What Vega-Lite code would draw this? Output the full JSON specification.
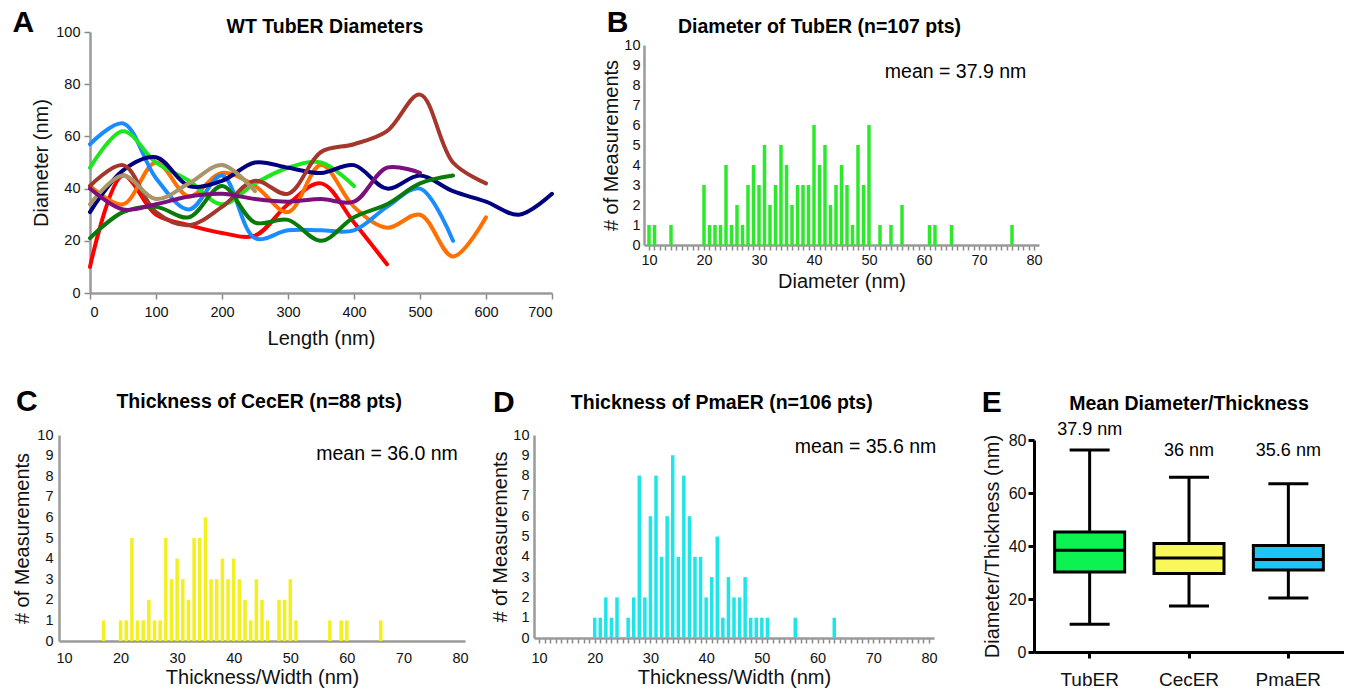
{
  "$schema": "https://vega.github.io/schema/vega-lite/v6.json",
  "padding": {"left": 10, "top": 7, "right": 0, "bottom": 0},
  "config": {
    "font": "Liberation Sans",
    "view": {"stroke": null},
    "axis": {"grid": false, "labelOverlap": false, "domainColor": "#9a9a9a", "domainWidth": 2.5, "tickColor": "#8a8a8a", "tickWidth": 1.5, "labelColor": "#111", "labelFontSize": 14.5, "titleFontSize": 20, "titleFontWeight": "normal", "titleColor": "#111", "labelFont": "Liberation Sans", "titleFont": "Liberation Sans"},
    "text": {"font": "Liberation Sans", "color": "#111"}
  },
  "resolve": {"scale": {"color": "independent"}},
  "datasets": {
    "tubules": [
      {"series": "red", "length": 0, "diameter": 10}, {"series": "red", "length": 50, "diameter": 45}, {"series": "red", "length": 100, "diameter": 30}, {"series": "red", "length": 150, "diameter": 26}, {"series": "red", "length": 200, "diameter": 23}, {"series": "red", "length": 250, "diameter": 22}, {"series": "red", "length": 300, "diameter": 34}, {"series": "red", "length": 350, "diameter": 42}, {"series": "red", "length": 400, "diameter": 27}, {"series": "red", "length": 450, "diameter": 11},
      {"series": "orange", "length": 0, "diameter": 41}, {"series": "orange", "length": 50, "diameter": 34}, {"series": "orange", "length": 100, "diameter": 50}, {"series": "orange", "length": 150, "diameter": 37}, {"series": "orange", "length": 200, "diameter": 46}, {"series": "orange", "length": 250, "diameter": 41}, {"series": "orange", "length": 300, "diameter": 31}, {"series": "orange", "length": 350, "diameter": 49}, {"series": "orange", "length": 400, "diameter": 33}, {"series": "orange", "length": 450, "diameter": 25}, {"series": "orange", "length": 500, "diameter": 30}, {"series": "orange", "length": 550, "diameter": 14}, {"series": "orange", "length": 600, "diameter": 29},
      {"series": "blue", "length": 0, "diameter": 57}, {"series": "blue", "length": 50, "diameter": 65}, {"series": "blue", "length": 100, "diameter": 44}, {"series": "blue", "length": 150, "diameter": 32}, {"series": "blue", "length": 200, "diameter": 45}, {"series": "blue", "length": 250, "diameter": 21}, {"series": "blue", "length": 300, "diameter": 24}, {"series": "blue", "length": 350, "diameter": 24}, {"series": "blue", "length": 400, "diameter": 24}, {"series": "blue", "length": 450, "diameter": 33}, {"series": "blue", "length": 500, "diameter": 40}, {"series": "blue", "length": 550, "diameter": 20},
      {"series": "green", "length": 0, "diameter": 48}, {"series": "green", "length": 50, "diameter": 62}, {"series": "green", "length": 100, "diameter": 50}, {"series": "green", "length": 150, "diameter": 43}, {"series": "green", "length": 200, "diameter": 34}, {"series": "green", "length": 250, "diameter": 42}, {"series": "green", "length": 300, "diameter": 48}, {"series": "green", "length": 350, "diameter": 50}, {"series": "green", "length": 400, "diameter": 41},
      {"series": "navy", "length": 0, "diameter": 31}, {"series": "navy", "length": 50, "diameter": 47}, {"series": "navy", "length": 100, "diameter": 52}, {"series": "navy", "length": 150, "diameter": 41}, {"series": "navy", "length": 200, "diameter": 43}, {"series": "navy", "length": 250, "diameter": 50}, {"series": "navy", "length": 300, "diameter": 48}, {"series": "navy", "length": 350, "diameter": 46}, {"series": "navy", "length": 400, "diameter": 49}, {"series": "navy", "length": 450, "diameter": 40}, {"series": "navy", "length": 500, "diameter": 45}, {"series": "navy", "length": 550, "diameter": 39}, {"series": "navy", "length": 600, "diameter": 35}, {"series": "navy", "length": 650, "diameter": 30}, {"series": "navy", "length": 700, "diameter": 38},
      {"series": "brown", "length": 0, "diameter": 41}, {"series": "brown", "length": 50, "diameter": 49}, {"series": "brown", "length": 100, "diameter": 31}, {"series": "brown", "length": 150, "diameter": 26}, {"series": "brown", "length": 200, "diameter": 33}, {"series": "brown", "length": 250, "diameter": 43}, {"series": "brown", "length": 300, "diameter": 38}, {"series": "brown", "length": 350, "diameter": 54}, {"series": "brown", "length": 400, "diameter": 57}, {"series": "brown", "length": 450, "diameter": 62}, {"series": "brown", "length": 500, "diameter": 76}, {"series": "brown", "length": 550, "diameter": 50}, {"series": "brown", "length": 600, "diameter": 42},
      {"series": "tan", "length": 0, "diameter": 34}, {"series": "tan", "length": 50, "diameter": 45}, {"series": "tan", "length": 100, "diameter": 36}, {"series": "tan", "length": 150, "diameter": 42}, {"series": "tan", "length": 200, "diameter": 49}, {"series": "tan", "length": 250, "diameter": 39},
      {"series": "dkgreen", "length": 0, "diameter": 21}, {"series": "dkgreen", "length": 50, "diameter": 31}, {"series": "dkgreen", "length": 100, "diameter": 33}, {"series": "dkgreen", "length": 150, "diameter": 29}, {"series": "dkgreen", "length": 200, "diameter": 41}, {"series": "dkgreen", "length": 250, "diameter": 27}, {"series": "dkgreen", "length": 300, "diameter": 28}, {"series": "dkgreen", "length": 350, "diameter": 20}, {"series": "dkgreen", "length": 400, "diameter": 29}, {"series": "dkgreen", "length": 450, "diameter": 34}, {"series": "dkgreen", "length": 500, "diameter": 42}, {"series": "dkgreen", "length": 550, "diameter": 45},
      {"series": "purple", "length": 0, "diameter": 40}, {"series": "purple", "length": 50, "diameter": 32}, {"series": "purple", "length": 100, "diameter": 34}, {"series": "purple", "length": 150, "diameter": 37}, {"series": "purple", "length": 200, "diameter": 38}, {"series": "purple", "length": 250, "diameter": 36}, {"series": "purple", "length": 300, "diameter": 35}, {"series": "purple", "length": 350, "diameter": 36}, {"series": "purple", "length": 400, "diameter": 35}, {"series": "purple", "length": 450, "diameter": 48}, {"series": "purple", "length": 500, "diameter": 46}
    ],
    "tuber": [
      {"diameter": 10, "count": 1}, {"diameter": 11, "count": 1}, {"diameter": 14, "count": 1}, {"diameter": 20, "count": 3}, {"diameter": 21, "count": 1}, {"diameter": 22, "count": 1}, {"diameter": 23, "count": 1}, {"diameter": 24, "count": 4}, {"diameter": 25, "count": 1}, {"diameter": 26, "count": 2}, {"diameter": 27, "count": 1}, {"diameter": 28, "count": 3}, {"diameter": 29, "count": 4}, {"diameter": 30, "count": 3}, {"diameter": 31, "count": 5}, {"diameter": 32, "count": 2}, {"diameter": 33, "count": 3}, {"diameter": 34, "count": 5}, {"diameter": 35, "count": 4}, {"diameter": 36, "count": 2}, {"diameter": 37, "count": 3}, {"diameter": 38, "count": 3}, {"diameter": 39, "count": 3}, {"diameter": 40, "count": 6}, {"diameter": 41, "count": 4}, {"diameter": 42, "count": 5}, {"diameter": 43, "count": 2}, {"diameter": 44, "count": 3}, {"diameter": 45, "count": 4}, {"diameter": 46, "count": 3}, {"diameter": 47, "count": 1}, {"diameter": 48, "count": 5}, {"diameter": 49, "count": 3}, {"diameter": 50, "count": 6}, {"diameter": 52, "count": 1}, {"diameter": 54, "count": 1}, {"diameter": 56, "count": 2}, {"diameter": 61, "count": 1}, {"diameter": 62, "count": 1}, {"diameter": 65, "count": 1}, {"diameter": 76, "count": 1}
    ],
    "cecer": [
      {"thickness": 17, "count": 1}, {"thickness": 20, "count": 1}, {"thickness": 21, "count": 1}, {"thickness": 22, "count": 5}, {"thickness": 23, "count": 1}, {"thickness": 24, "count": 1}, {"thickness": 25, "count": 2}, {"thickness": 26, "count": 1}, {"thickness": 27, "count": 1}, {"thickness": 28, "count": 5}, {"thickness": 29, "count": 3}, {"thickness": 30, "count": 4}, {"thickness": 31, "count": 3}, {"thickness": 32, "count": 2}, {"thickness": 33, "count": 5}, {"thickness": 34, "count": 5}, {"thickness": 35, "count": 6}, {"thickness": 36, "count": 3}, {"thickness": 37, "count": 3}, {"thickness": 38, "count": 4}, {"thickness": 39, "count": 3}, {"thickness": 40, "count": 4}, {"thickness": 41, "count": 3}, {"thickness": 42, "count": 2}, {"thickness": 43, "count": 1}, {"thickness": 44, "count": 3}, {"thickness": 45, "count": 2}, {"thickness": 46, "count": 1}, {"thickness": 48, "count": 2}, {"thickness": 49, "count": 2}, {"thickness": 50, "count": 3}, {"thickness": 51, "count": 1}, {"thickness": 57, "count": 1}, {"thickness": 59, "count": 1}, {"thickness": 60, "count": 1}, {"thickness": 66, "count": 1}
    ],
    "pmaer": [
      {"thickness": 20, "count": 1}, {"thickness": 21, "count": 1}, {"thickness": 22, "count": 2}, {"thickness": 23, "count": 1}, {"thickness": 24, "count": 2}, {"thickness": 26, "count": 1}, {"thickness": 27, "count": 2}, {"thickness": 28, "count": 8}, {"thickness": 29, "count": 2}, {"thickness": 30, "count": 6}, {"thickness": 31, "count": 8}, {"thickness": 32, "count": 4}, {"thickness": 33, "count": 6}, {"thickness": 34, "count": 9}, {"thickness": 35, "count": 4}, {"thickness": 36, "count": 8}, {"thickness": 37, "count": 6}, {"thickness": 38, "count": 4}, {"thickness": 39, "count": 4}, {"thickness": 40, "count": 2}, {"thickness": 41, "count": 3}, {"thickness": 42, "count": 5}, {"thickness": 43, "count": 1}, {"thickness": 44, "count": 3}, {"thickness": 45, "count": 2}, {"thickness": 46, "count": 2}, {"thickness": 47, "count": 3}, {"thickness": 48, "count": 1}, {"thickness": 49, "count": 1}, {"thickness": 50, "count": 1}, {"thickness": 51, "count": 1}, {"thickness": 56, "count": 1}, {"thickness": 63, "count": 1}
    ],
    "summary": [
      {"group": "TubER", "min": 10.5, "q1": 30.2, "median": 38.4, "q3": 45.3, "max": 76.2, "mean": "37.9 nm"},
      {"group": "CecER", "min": 17.4, "q1": 29.6, "median": 35.5, "q3": 40.9, "max": 65.9, "mean": "36 nm"},
      {"group": "PmaER", "min": 20.4, "q1": 30.9, "median": 34.9, "q3": 40.2, "max": 63.5, "mean": "35.6 nm"}
    ]
  },
  "spacing": 37,
  "vconcat": [
    {
      "spacing": 1,
      "hconcat": [
        {"width": 1, "height": 1, "data": {"values": []}, "mark": "point"},
        {
          "spacing": 0,
          "vconcat": [
            {"width": 1, "height": 1, "data": {"values": []}, "mark": "point"},
            {
              "width": 462, "height": 261,
              "layer": [
                {
                  "data": {"name": "tubules"},
                  "mark": {"type": "line", "interpolate": "catmull-rom", "strokeWidth": 4, "strokeCap": "round"},
                  "encoding": {
                    "x": {"field": "length", "type": "quantitative", "scale": {"domain": [0, 700], "nice": false}, "axis": {"title": "Length (nm)", "values": [0, 100, 200, 300, 400, 500, 600, 700], "format": "d", "tickCount": 100, "tickSize": 6, "labelPadding": 6, "titlePadding": 10}},
                    "y": {"field": "diameter", "type": "quantitative", "scale": {"domain": [0, 100], "nice": false}, "axis": {"title": "Diameter (nm)", "values": [0, 20, 40, 60, 80, 100], "format": "d", "tickCount": 100, "tickSize": 6, "labelPadding": 4, "titlePadding": 4}},
                    "color": {"field": "series", "type": "nominal", "legend": null, "scale": {"domain": ["tan", "purple", "dkgreen", "orange", "red", "green", "blue", "brown", "navy"], "range": ["#a8966a", "#7b0f7b", "#0a7a0a", "#ff7000", "#ff0000", "#1ee61e", "#1a8cff", "#a5362c", "#00007f"]}}
                  }
                },
                {
                  "data": {"values": [{"label": "A"}]},
                  "mark": {"type": "text", "fontSize": 30, "fontWeight": "bold", "align": "center", "baseline": "middle", "color": "#000"},
                  "encoding": {"text": {"field": "label"}, "x": {"datum": -101}, "y": {"datum": 103.4}}
                },
                {
                  "data": {"values": [{"label": "WT TubER Diameters"}]},
                  "mark": {"type": "text", "fontSize": 19.5, "fontWeight": "bold", "align": "center", "baseline": "middle", "color": "#000"},
                  "encoding": {"text": {"field": "label"}, "x": {"datum": 356}, "y": {"datum": 101.9}}
                }
              ]
            }
          ]
        },
        {"width": 39, "height": 1, "data": {"values": []}, "mark": "point"},
        {
          "spacing": 0,
          "vconcat": [
            {"width": 1, "height": 1, "data": {"values": []}, "mark": "point"},
            {
              "width": 395, "height": 200,
              "layer": [
                {
                  "data": {"name": "tuber"},
                  "mark": {"type": "bar", "width": 3.5, "color": "#2ee82e"},
                  "encoding": {
                    "x": {"field": "diameter", "type": "quantitative", "scale": {"domain": [10, 80], "nice": false}, "axis": {"title": "Diameter (nm)", "values": [10,11,12,13,14,15,16,17,18,19,20,21,22,23,24,25,26,27,28,29,30,31,32,33,34,35,36,37,38,39,40,41,42,43,44,45,46,47,48,49,50,51,52,53,54,55,56,57,58,59,60,61,62,63,64,65,66,67,68,69,70,71,72,73,74,75,76,77,78,79,80], "format": "d", "tickCount": 200, "labelExpr": "datum.value % 10 === 0 ? datum.label : ''", "labelOverlap": false, "tickSize": 5, "labelPadding": 3, "titlePadding": 5}},
                    "y": {"field": "count", "type": "quantitative", "scale": {"domain": [0, 10], "nice": false}, "axis": {"title": "# of Measurements", "values": [0,1,2,3,4,5,6,7,8,9,10], "format": "d", "tickCount": 100, "labelOverlap": false, "tickSize": 0, "labelPadding": 4, "titlePadding": 2}}
                  }
                },
                {
                  "data": {"values": [{"label": "B"}]},
                  "mark": {"type": "text", "fontSize": 30, "fontWeight": "bold", "align": "center", "baseline": "middle", "color": "#000"},
                  "encoding": {"text": {"field": "label"}, "x": {"datum": 4.3}, "y": {"datum": 11.1}}
                },
                {
                  "data": {"values": [{"label": "Diameter of TubER (n=107 pts)"}]},
                  "mark": {"type": "text", "fontSize": 19.5, "fontWeight": "bold", "align": "center", "baseline": "middle", "color": "#000"},
                  "encoding": {"text": {"field": "label"}, "x": {"datum": 41}, "y": {"datum": 10.9}}
                },
                {
                  "data": {"values": [{"label": "mean = 37.9 nm"}]},
                  "mark": {"type": "text", "fontSize": 19.5, "align": "right", "baseline": "middle", "color": "#000"},
                  "encoding": {"text": {"field": "label"}, "x": {"datum": 78.6}, "y": {"datum": 8.65}}
                }
              ]
            }
          ]
        }
      ]
    },
    {
      "spacing": 1,
      "hconcat": [
        {"width": 1, "height": 1, "data": {"values": []}, "mark": "point"},
        {
          "spacing": 0,
          "vconcat": [
            {"width": 1, "height": 1, "data": {"values": []}, "mark": "point"},
            {
              "width": 406, "height": 206,
              "layer": [
                {
                  "data": {"name": "cecer"},
                  "mark": {"type": "bar", "width": 3.5, "color": "#f2f01e"},
                  "encoding": {
                    "x": {"field": "thickness", "type": "quantitative", "scale": {"domain": [10, 80], "nice": false}, "axis": {"title": "Thickness/Width (nm)", "values": [10, 20, 30, 40, 50, 60, 70, 80], "format": "d", "tickCount": 100, "tickSize": 0, "labelPadding": 10, "titlePadding": 3}},
                    "y": {"field": "count", "type": "quantitative", "scale": {"domain": [0, 10], "nice": false}, "axis": {"title": "# of Measurements", "values": [0,1,2,3,4,5,6,7,8,9,10], "format": "d", "tickCount": 100, "labelOverlap": false, "tickSize": 0, "labelPadding": 6, "titlePadding": 4}}
                  }
                },
                {
                  "data": {"values": [{"label": "C"}]},
                  "mark": {"type": "text", "fontSize": 30, "fontWeight": "bold", "align": "center", "baseline": "middle", "color": "#000"},
                  "encoding": {"text": {"field": "label"}, "x": {"datum": 3.45}, "y": {"datum": 11.6}}
                },
                {
                  "data": {"values": [{"label": "Thickness of CecER (n=88 pts)"}]},
                  "mark": {"type": "text", "fontSize": 19.5, "fontWeight": "bold", "align": "center", "baseline": "middle", "color": "#000"},
                  "encoding": {"text": {"field": "label"}, "x": {"datum": 44.5}, "y": {"datum": 11.6}}
                },
                {
                  "data": {"values": [{"label": "mean = 36.0 nm"}]},
                  "mark": {"type": "text", "fontSize": 19.5, "align": "right", "baseline": "middle", "color": "#000"},
                  "encoding": {"text": {"field": "label"}, "x": {"datum": 79.6}, "y": {"datum": 9.08}}
                }
              ]
            }
          ]
        },
        {"width": 19, "height": 1, "data": {"values": []}, "mark": "point"},
        {
          "spacing": 0,
          "vconcat": [
            {"width": 1, "height": 1, "data": {"values": []}, "mark": "point"},
            {
              "width": 400, "height": 203,
              "layer": [
                {
                  "data": {"name": "pmaer"},
                  "mark": {"type": "bar", "width": 3.5, "color": "#1ee5e8"},
                  "encoding": {
                    "x": {"field": "thickness", "type": "quantitative", "scale": {"domain": [10, 80], "nice": false}, "axis": {"title": "Thickness/Width (nm)", "values": [10,11,12,13,14,15,16,17,18,19,20,21,22,23,24,25,26,27,28,29,30,31,32,33,34,35,36,37,38,39,40,41,42,43,44,45,46,47,48,49,50,51,52,53,54,55,56,57,58,59,60,61,62,63,64,65,66,67,68,69,70,71,72,73,74,75,76,77,78,79,80], "format": "d", "tickCount": 200, "labelExpr": "datum.value % 10 === 0 ? datum.label : ''", "labelOverlap": false, "tickSize": 5, "labelPadding": 8, "titlePadding": 3}},
                    "y": {"field": "count", "type": "quantitative", "scale": {"domain": [0, 10], "nice": false}, "axis": {"title": "# of Measurements", "values": [0,1,2,3,4,5,6,7,8,9,10], "format": "d", "tickCount": 100, "labelOverlap": false, "tickSize": 0, "labelPadding": 5, "titlePadding": 2}}
                  }
                },
                {
                  "data": {"values": [{"label": "D"}]},
                  "mark": {"type": "text", "fontSize": 30, "fontWeight": "bold", "align": "center", "baseline": "middle", "color": "#000"},
                  "encoding": {"text": {"field": "label"}, "x": {"datum": 3.7}, "y": {"datum": 11.58}}
                },
                {
                  "data": {"values": [{"label": "Thickness of PmaER (n=106 pts)"}]},
                  "mark": {"type": "text", "fontSize": 19.5, "fontWeight": "bold", "align": "center", "baseline": "middle", "color": "#000"},
                  "encoding": {"text": {"field": "label"}, "x": {"datum": 42.8}, "y": {"datum": 11.58}}
                },
                {
                  "data": {"values": [{"label": "mean = 35.6 nm"}]},
                  "mark": {"type": "text", "fontSize": 19.5, "align": "right", "baseline": "middle", "color": "#000"},
                  "encoding": {"text": {"field": "label"}, "x": {"datum": 81.3}, "y": {"datum": 9.4}}
                }
              ]
            }
          ]
        },
        {"width": 41, "height": 1, "data": {"values": []}, "mark": "point"},
        {
          "spacing": 0,
          "vconcat": [
            {"width": 1, "height": 1, "data": {"values": []}, "mark": "point"},
            {
              "width": 310, "height": 212,
              "data": {"name": "summary"},
              "encoding": {
                "x": {"field": "group", "type": "nominal", "sort": ["TubER", "CecER", "PmaER"], "scale": {"paddingInner": 0, "paddingOuter": 0.06}, "axis": {"title": null, "labelAngle": 0, "labelFontSize": 19, "domainColor": "#000", "domainWidth": 3, "tickColor": "#000", "tickWidth": 3, "tickSize": 6, "labelPadding": 12}}
              },
              "layer": [
                {
                  "mark": {"type": "rule", "strokeWidth": 3, "color": "#000"},
                  "encoding": {
                    "y": {"field": "min", "type": "quantitative", "scale": {"domain": [0, 80], "nice": false}, "axis": {"title": "Diameter/Thickness (nm)", "values": [0, 20, 40, 60, 80], "format": "d", "tickCount": 100, "labelFontSize": 16, "titleFontSize": 20, "domainColor": "#000", "domainWidth": 3, "tickColor": "#000", "tickWidth": 3, "tickSize": 6, "labelPadding": 2, "titlePadding": 6}},
                    "y2": {"field": "max"}
                  }
                },
                {
                  "mark": {"type": "bar", "width": 70, "stroke": "#000", "strokeWidth": 3},
                  "encoding": {
                    "y": {"field": "q1", "type": "quantitative"},
                    "y2": {"field": "q3"},
                    "color": {"field": "group", "type": "nominal", "legend": null, "scale": {"domain": ["TubER", "CecER", "PmaER"], "range": ["#0cf250", "#f8f85a", "#1ec4f6"]}}
                  }
                },
                {
                  "mark": {"type": "tick", "size": 70, "thickness": 3, "color": "#000", "opacity": 1},
                  "encoding": {"y": {"field": "median", "type": "quantitative"}}
                },
                {
                  "mark": {"type": "tick", "size": 40, "thickness": 3, "color": "#000", "opacity": 1},
                  "encoding": {"y": {"field": "min", "type": "quantitative"}}
                },
                {
                  "mark": {"type": "tick", "size": 40, "thickness": 3, "color": "#000", "opacity": 1},
                  "encoding": {"y": {"field": "max", "type": "quantitative"}}
                },
                {
                  "transform": [{"filter": "datum.group === 'TubER'"}],
                  "mark": {"type": "text", "fontSize": 18, "align": "center", "baseline": "middle", "color": "#000"},
                  "encoding": {"text": {"field": "mean"}, "y": {"datum": 83.8}}
                },
                {
                  "transform": [{"filter": "datum.group !== 'TubER'"}],
                  "mark": {"type": "text", "fontSize": 18, "align": "center", "baseline": "middle", "color": "#000"},
                  "encoding": {"text": {"field": "mean"}, "y": {"datum": 75.8}}
                },
                {
                  "data": {"values": [{"label": "E"}]},
                  "mark": {"type": "text", "fontSize": 30, "fontWeight": "bold", "align": "center", "baseline": "middle", "color": "#000", "dx": -98},
                  "encoding": {"text": {"field": "label"}, "x": {"datum": "TubER"}, "y": {"datum": 94}}
                },
                {
                  "data": {"values": [{"label": "Mean Diameter/Thickness"}]},
                  "mark": {"type": "text", "fontSize": 19.5, "fontWeight": "bold", "align": "center", "baseline": "middle", "color": "#000"},
                  "encoding": {"text": {"field": "label"}, "x": {"datum": "CecER"}, "y": {"datum": 93.6}}
                }
              ]
            }
          ]
        }
      ]
    }
  ]
}
